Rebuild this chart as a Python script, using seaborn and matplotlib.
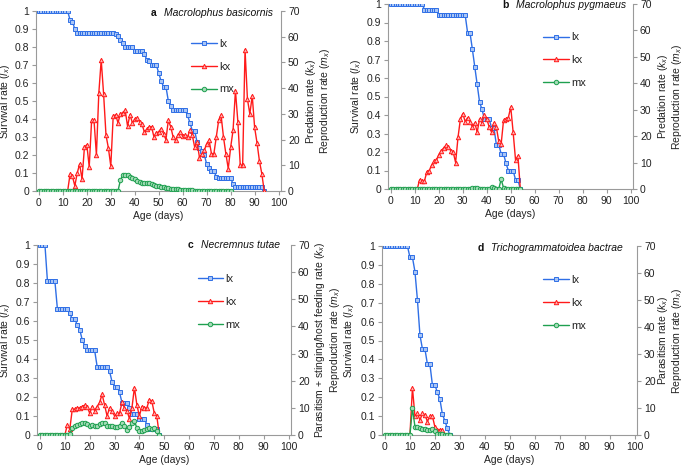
import numpy as np
import pandas as pd
import matplotlib
matplotlib.use("Agg")
import matplotlib.pyplot as plt
import seaborn as sns

# ---------------- data ----------------
# Panel a: Macrolophus basicornis
lx_a_days = np.arange(0, 95)
lx_a = [1, 1, 1, 1, 1, 1, 1, 1, 1, 1, 1, 1, 1,
        0.95, 0.94, 0.90,
        0.88, 0.88, 0.88, 0.88, 0.88, 0.88, 0.88, 0.88, 0.88, 0.88, 0.88, 0.88, 0.88, 0.88, 0.88, 0.88,
        0.87, 0.86, 0.84, 0.82,
        0.80, 0.80, 0.80, 0.80,
        0.78, 0.78, 0.78, 0.78,
        0.76, 0.73, 0.72,
        0.70, 0.70, 0.70,
        0.655, 0.61, 0.58, 0.58, 0.50, 0.47,
        0.45, 0.45, 0.45, 0.45, 0.45, 0.45,
        0.42, 0.38, 0.335, 0.335, 0.27, 0.24, 0.22, 0.20, 0.15, 0.13, 0.11, 0.11, 0.08,
        0.07, 0.07, 0.07, 0.07, 0.07, 0.07,
        0.04,
        0.025, 0.025, 0.025, 0.025, 0.025, 0.025, 0.025, 0.025, 0.025, 0.025, 0.025, 0.025,
        0.0]
kx_a_days = np.arange(0, 95)
kx_a = [0, 0, 0, 0, 0, 0, 0, 0, 0, 0, 0, 0, 0,
        6.5, 5.7, 2, 7, 10.5, 4.5, 17, 18, 9.4, 27.5, 27.5, 14, 38, 51, 37.7, 21.7, 16.7, 9.7,
        29, 29.7, 26.5, 30, 30.5, 31.4, 25.2, 29.7, 26.5, 28, 28.4, 27, 26, 23, 24, 25, 25, 21,
        22.6, 23, 24.3, 22.3, 20, 27.5, 25, 21, 19.7, 21.7, 23, 21.3, 21.7, 21, 23.6, 21.7, 17,
        19, 13, 14.5, 15.8, 18.4, 19.7, 14.5, 14.5, 21, 27.5, 29.5, 21, 14.5, 8.7, 17, 23.6, 39,
        27, 10, 10, 55, 35.7, 30, 37, 24.7, 18.7, 11.7, 6.7, 0]
mx_a_days = np.arange(0, 81)
mx_a = [0, 0, 0, 0, 0, 0, 0, 0, 0, 0, 0, 0, 0, 0, 0, 0, 0, 0, 0, 0, 0, 0, 0, 0, 0, 0, 0, 0, 0, 0, 0, 0, 0, 0,
        4.2, 6.1, 6.4, 6.2, 5.6, 5.0, 4.5, 4.0, 3.6, 3.3, 3.2, 3.1, 3.2, 2.8, 2.4, 2.0, 1.8, 1.6,
        1.4, 1.2, 1.0, 0.9, 0.8, 0.7, 0.6, 0.5, 0.4, 0.3, 0.3, 0.2, 0.2, 0.1,
        0, 0, 0, 0, 0, 0, 0, 0, 0, 0, 0, 0, 0, 0, 0]

# Panel b: Macrolophus pygmaeus
lx_b_days = np.arange(0, 55)
lx_b = [1, 1, 1, 1, 1, 1, 1, 1, 1, 1, 1, 1, 1, 1,
        0.97, 0.97, 0.97, 0.97, 0.97, 0.97,
        0.94, 0.94, 0.94, 0.94, 0.94, 0.94, 0.94, 0.94, 0.94, 0.94, 0.94, 0.94,
        0.845, 0.845, 0.755, 0.66, 0.565, 0.47, 0.43, 0.38, 0.38, 0.38, 0.33, 0.33,
        0.24, 0.24, 0.19, 0.19, 0.14, 0.10, 0.10, 0.10, 0.05, 0.05, 0.0]
kx_b_days = np.arange(0, 55)
kx_b = [0, 0, 0, 0, 0, 0, 0, 0, 0, 0, 0, 0,
        3.5, 3, 3, 6.5, 7, 9, 10.5, 11, 13, 14.5, 15.5, 16.5, 16, 14.5, 14, 10, 19.5, 26.5,
        28.5, 25.5, 27, 25.5, 23.5, 25, 21.5, 26.5, 25, 28, 26.5, 23.5, 21.5, 25, 23.5, 18,
        17, 26, 26.5, 27, 31, 21.5, 11, 12.5, 0]
mx_b_days = np.arange(0, 55)
mx_b = [0, 0, 0, 0, 0, 0, 0, 0, 0, 0, 0, 0, 0, 0, 0, 0, 0, 0, 0, 0, 0, 0, 0, 0, 0, 0, 0, 0, 0, 0, 0, 0, 0, 0,
        0.5, 0.4, 0.2, 0, 0, 0, 0, 0, 0.8, 0.3, 0, 0, 3.7, 0.4, 0, 0, 0, 0, 0, 0, 0]

# Panel c: Necremnus tutae
lx_c_days = np.arange(0, 49)
lx_c = [1, 1, 1, 0.81, 0.81, 0.81, 0.81, 0.665, 0.665, 0.665, 0.665, 0.665,
        0.64, 0.61, 0.61, 0.58, 0.555, 0.5, 0.47, 0.445, 0.445, 0.445, 0.445,
        0.36, 0.36, 0.36, 0.36, 0.36, 0.335, 0.28, 0.255, 0.255, 0.225,
        0.17, 0.17, 0.17, 0.14, 0.11, 0.11, 0.11, 0.085, 0.085, 0.085, 0.055,
        0.03, 0.03, 0.03, 0.03, 0.0]
kx_c_days = np.arange(0, 49)
kx_c = [0, 0, 0, 0, 0, 0, 0, 0, 0, 0, 0,
        3.7, 2.2, 9.5, 9.5, 10, 10, 10.5, 11, 10.5, 8, 10.5, 9, 10.5, 12, 15, 11, 7, 10, 9,
        7, 8, 8, 12, 10, 9, 6, 10, 17.5, 11, 7, 10.5, 10, 10, 13, 12.5, 8, 7, 0]
mx_c_days = np.arange(0, 49)
mx_c = [0, 0, 0, 0, 0, 0, 0, 0, 0, 0, 0, 0,
        0.5, 2.5, 3.5, 3.8, 4, 4.3, 4.5, 4, 3.5, 3.7, 3.3, 3.5, 4, 4.6, 4.3, 3.5, 3.2, 3.2,
        3, 3, 3.5, 4.5, 3.5, 2, 2.8, 4.5, 5.2, 2.5, 1.3, 1.6, 2, 2.2, 2.6, 2.3, 2.6, 1.5, 0]

# Panel d: Trichogrammatoidea bactrae
lx_d_days = np.arange(0, 27)
lx_d = [1, 1, 1, 1, 1, 1, 1, 1, 1, 1,
        0.94, 0.94, 0.865, 0.715, 0.53, 0.455, 0.455, 0.375, 0.375, 0.265, 0.265,
        0.225, 0.19, 0.11, 0.075, 0.035, 0.0]
kx_d_days = np.arange(0, 24)
kx_d = [0, 0, 0, 0, 0, 0, 0, 0, 0, 0, 0,
        17.5, 7, 8, 5.5, 8, 7.5, 5, 7, 7, 3, 2, 2, 2]
mx_d_days = np.arange(0, 27)
mx_d = [0, 0, 0, 0, 0, 0, 0, 0, 0, 0, 0,
        10, 3.1, 2.8, 2.5, 2.2, 2.2, 1.8, 1.8, 2.2, 1.5, 0.5, 0.3, 0.2, 0.1, 0, 0]

letters = ["a", "b", "c", "d"]
species = ["Macrolophus basicornis", "Macrolophus pygmaeus",
           "Necremnus tutae", "Trichogrammatoidea bactrae"]
right_labels = [
    "Predation rate ($k_x$)\nReproduction rate ($m_x$)",
    "Predation rate ($k_x$)\nReproduction rate ($m_x$)",
    "Parasitism + stinging/host feeding rate ($k_x$)\nReproduction rate ($m_x$)",
    "Parasitism rate ($k_x$)\nReproduction rate ($m_x$)",
]
left_ticks = [0, 0.1, 0.2, 0.3, 0.4, 0.5, 0.6, 0.7, 0.8, 0.9, 1]
left_ticklabels = ["0", "0.1", "0.2", "0.3", "0.4", "0.5", "0.6", "0.7", "0.8", "0.9", "1"]
right_ticks = [0, 10, 20, 30, 40, 50, 60, 70]
x_ticks = [0, 10, 20, 30, 40, 50, 60, 70, 80, 90, 100]

# ---------------- style ----------------
sns.set_theme(style="white")
plt.rcParams["font.family"] = ["Liberation Sans", "DejaVu Sans"]
plt.rcParams["mathtext.fontset"] = "custom"
plt.rcParams["mathtext.rm"] = "Liberation Sans"
plt.rcParams["mathtext.it"] = "Liberation Sans:italic"
plt.rcParams["mathtext.bf"] = "Liberation Sans:bold"

BLUE, BLUE_L = "#2f6fe6", "#a9c5f5"
RED, RED_L = "#ff1a1a", "#ffb0b0"
GREEN, GREEN_L = "#1fa050", "#a6dcb8"
GREY = "#9a9a9a"
FS = 7.5

fig = plt.figure(figsize=(6.85, 4.7), dpi=100)
W, H = 685.0, 470.0
# pixel boxes (left, top, right, bottom)
boxes = [(36, 11, 281, 191), (388, 4, 633, 189), (37, 245, 291, 435), (382, 246, 637, 435)]
title_pos = [(0.967, 0.99), (0.972, 0.995), (0.955, 0.998), (0.945, 0.99)]
# pixel x of left label's right edge, right label's left edge
left_label_px = [12.5, 363, 12.5, 356]
right_label_px = [304, 656, 313, 656]

panels = [
    (lx_a_days, lx_a, kx_a_days, kx_a, mx_a_days, mx_a),
    (lx_b_days, lx_b, kx_b_days, kx_b, mx_b_days, mx_b),
    (lx_c_days, lx_c, kx_c_days, kx_c, mx_c_days, mx_c),
    (lx_d_days, lx_d, kx_d_days, kx_d, mx_d_days, mx_d),
]

line_kw = dict(lw=1.0, mew=0.7, ms=3.2)

for i, (lxd, lx, kxd, kx, mxd, mx) in enumerate(panels):
    l, t, r, b = boxes[i]
    ax = fig.add_axes([l / W, 1 - b / H, (r - l) / W, (b - t) / H])
    ax2 = ax.twinx()

    sns.lineplot(x=lxd, y=lx, ax=ax, color=BLUE, marker="s", mfc=BLUE_L, mec=BLUE,
                 label="lx", legend=False, **line_kw)
    sns.lineplot(x=kxd, y=kx, ax=ax2, color=RED, marker="^", mfc=RED_L, mec=RED,
                 label="kx", legend=False, **line_kw)
    sns.lineplot(x=mxd, y=mx, ax=ax2, color=GREEN, marker="o", mfc=GREEN_L, mec=GREEN,
                 label="mx", legend=False, **line_kw)

    ax.set_xlim(-1.2, 101)
    ax.set_ylim(0, 1)
    ax2.set_ylim(0, 70)
    ax.set_xticks(x_ticks)
    ax.set_xticklabels([str(v) for v in x_ticks])
    ax.set_yticks(left_ticks)
    ax.set_yticklabels(left_ticklabels)
    ax2.set_yticks(right_ticks)
    ax2.set_yticklabels([str(v) for v in right_ticks])

    for a in (ax, ax2):
        for s in a.spines.values():
            s.set_color(GREY)
            s.set_linewidth(0.8)
        a.spines["top"].set_visible(False)
    ax.spines["right"].set_visible(False)
    ax2.spines["left"].set_visible(False)
    ax2.spines["bottom"].set_visible(False)

    ax.tick_params(axis="both", which="both", direction="out", length=3, width=0.8,
                   color=GREY, labelsize=FS, pad=2, bottom=True, left=True,
                   labelcolor="#222222")
    ax2.tick_params(axis="y", direction="out", length=3, width=0.8, color=GREY,
                    labelsize=FS, pad=2, right=True, labelcolor="#222222")

    ax.set_xlabel("Age (days)", fontsize=FS, labelpad=2, color="#222222")
    ax.set_ylabel("Survival rate ($l_x$)", fontsize=FS, color="#222222")
    ax2.set_ylabel(right_labels[i], fontsize=FS, color="#222222", linespacing=1.05)
    ax.yaxis.set_label_coords((left_label_px[i] - l) / (r - l), 0.5)
    ax2.yaxis.set_label_coords((right_label_px[i] - l) / (r - l), 0.5)

    tx, ty = title_pos[i]
    sp = ax.text(tx, ty, species[i], transform=ax.transAxes, ha="right", va="center",
                 fontsize=FS, style="italic", color="#111111")
    ax.annotate(letters[i], xy=(0, 0.5), xycoords=sp, xytext=(-5, 0),
                textcoords="offset points", ha="right", va="center",
                fontsize=FS, fontweight="bold", color="#111111")

    h1, l1 = ax.get_legend_handles_labels()
    h2, l2 = ax2.get_legend_handles_labels()
    ax2.legend(h1 + h2, l1 + l2, loc="upper left", bbox_to_anchor=(0.615, 0.87),
               frameon=False, fontsize=FS + 0.5, labelspacing=1.15, handlelength=2.3,
               handletextpad=0.2, borderaxespad=0, numpoints=1)

fig.savefig("out.png", dpi=100, facecolor="white")
